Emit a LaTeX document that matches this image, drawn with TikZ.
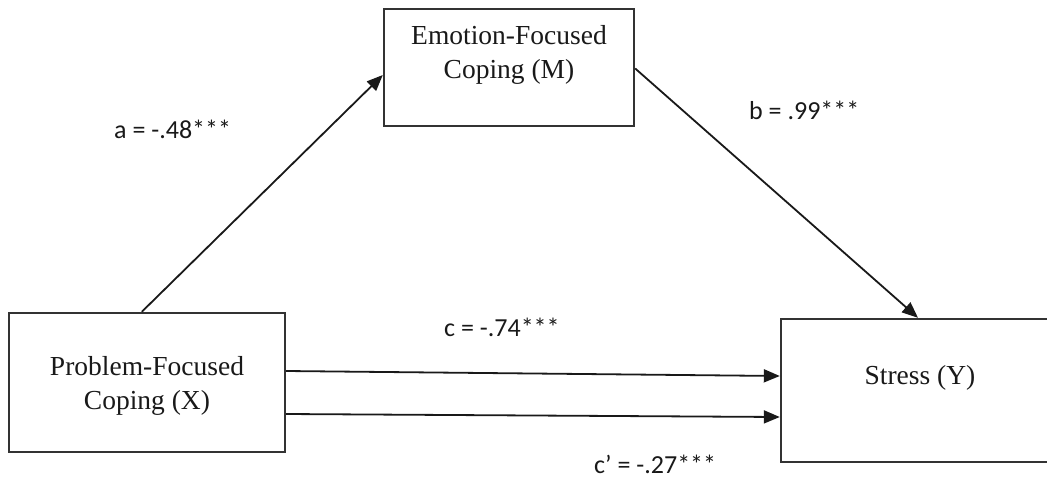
\documentclass[tikz,border=0pt]{standalone}
\usepackage{fontspec}
\newfontfamily\boxfont{Liberation Serif}
\newfontfamily\labfont{Carlito}
\usetikzlibrary{arrows.meta}
\begin{document}
\begin{tikzpicture}[x=1pt,y=-1pt,
  varbox/.style={draw=black!80, line width=2.4pt, rectangle, inner sep=0pt},
  boxtext/.style={font=\boxfont\fontsize{27.5}{34}\selectfont, align=center, text=black!90, inner sep=0pt},
  lab/.style={font=\labfont\fontsize{26}{30}\selectfont, text=black!90, inner sep=0pt, anchor=west},
  arr/.style={draw=black!90, line width=1.8pt, -{Triangle[length=16pt,width=13pt]}}]
\useasboundingbox (0,0) rectangle (1047,480);
\clip (0,0) rectangle (1047,480);
\node[varbox, minimum width=250pt, minimum height=117pt] (M) at (509,67.5) {};
\node[varbox, minimum width=276pt, minimum height=139pt] (X) at (147,382.5) {};
\node[varbox, minimum width=278pt, minimum height=143pt] (Y) at (920,390.5) {};
\node[boxtext] (Mt) at (509,55) {Emotion-Focused\\Coping (M)};
\node[boxtext] (Xt) at (147,386) {Problem-Focused\\Coping (X)};
\node[boxtext] (Yt) at (920,378) {Stress (Y)};
\draw[arr] ([xshift=134pt]X.north west) -- ([yshift=-7.5pt]M.west);
\draw[arr] ([yshift=-1pt]M.east) -- ([xshift=-2pt]Y.north);
\draw[arr] ([yshift=11.5pt]X.east) -- ([yshift=14.5pt]Y.west);
\draw[arr] ([yshift=-31.5pt]X.east) -- ([yshift=-26.5pt]Y.west);
\node[lab] (la) at (114,129) {a = -.48***};
\node[lab] (lb) at (749,110) {b = .99***};
\node[lab] (lc) at (444,327) {c = -.74***};
\node[lab] (lcp) at (594,464) {c’ = -.27***};
\end{tikzpicture}
\end{document}
